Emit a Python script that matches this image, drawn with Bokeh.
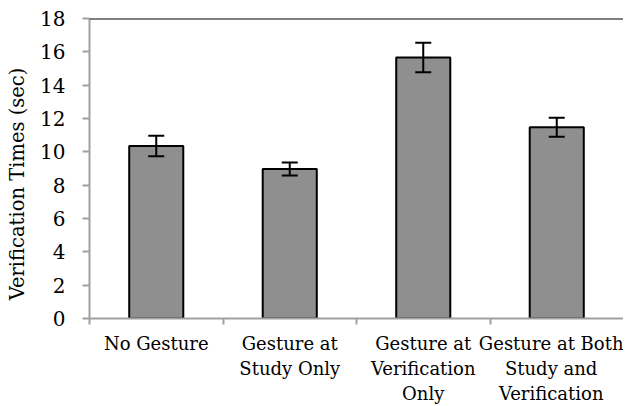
from bokeh.plotting import figure
from bokeh.models import FixedTicker, Span, Whisker, ColumnDataSource, Range1d
from bokeh.embed import file_html
from bokeh.resources import INLINE

categories = ["No Gesture", "Gesture at\nStudy Only", "Gesture at\nVerification\nOnly",
              "Gesture at Both\nStudy and\nVerification"]
means = [10.35, 8.97, 15.66, 11.48]
errors = [0.62, 0.39, 0.89, 0.57]
y_ticks = [0, 2, 4, 6, 8, 10, 12, 14, 16, 18]
y_title = "Verification Times (sec)"

xs = [i + 0.5 for i in range(len(categories))]
src = ColumnDataSource(dict(
    x=xs, top=means,
    upper=[m + e for m, e in zip(means, errors)],
    lower=[m - e for m, e in zip(means, errors)],
))

p = figure(frame_width=534, frame_height=300, output_backend="svg", toolbar_location=None,
           x_range=Range1d(0, len(categories)), y_range=Range1d(0, 18),
           min_border_left=89, min_border_right=0, min_border_top=18, min_border_bottom=80)
p.outline_line_color = None
p.xgrid.visible = False
p.ygrid.visible = False
p.background_fill_color = "white"

p.vbar(x="x", top="top", width=0.405, bottom=0, source=src,
       fill_color="#8f8f8f", line_color="black", line_width=2)

w = Whisker(base="x", upper="upper", lower="lower", source=src,
            line_color="black", line_width=2, level="overlay")
w.upper_head.size = 16
w.upper_head.line_width = 2
w.lower_head.size = 16
w.lower_head.line_width = 2
p.add_layout(w)

p.add_layout(Span(location=18, dimension="width", line_color="black", line_width=2))

font = "DejaVu Serif"
ya = p.yaxis[0]
ya.ticker = FixedTicker(ticks=y_ticks, minor_ticks=[])
ya.axis_line_color = "#a0a0a0"
ya.axis_line_width = 2
ya.major_tick_line_color = "#a0a0a0"
ya.major_tick_line_width = 2
ya.major_tick_out = 7
ya.major_tick_in = 0
ya.major_label_text_font = font
ya.major_label_text_font_size = "20px"
ya.major_label_text_color = "black"
ya.major_label_standoff = 17
ya.axis_label = y_title + "\u00a0" * 5
ya.axis_label_text_font = font
ya.axis_label_text_font_size = "19.5px"
ya.axis_label_text_font_style = "normal"
ya.axis_label_text_color = "black"
ya.axis_label_standoff = 8

xa = p.xaxis[0]
xa.ticker = FixedTicker(ticks=xs, minor_ticks=[0, 1, 2, 3])
xa.major_label_overrides = {x: c for x, c in zip(xs, categories)}
xa.axis_line_color = "#a0a0a0"
xa.axis_line_width = 2
xa.major_tick_out = 0
xa.major_tick_in = 0
xa.minor_tick_line_color = "#a0a0a0"
xa.minor_tick_line_width = 2
xa.minor_tick_out = 6
xa.minor_tick_in = 0
xa.major_label_text_font = font
xa.major_label_text_font_size = "18px"
xa.major_label_text_line_height = 1.2
xa.major_label_text_color = "black"
xa.major_label_standoff = 8

open("out.html", "w").write(file_html(p, INLINE))
